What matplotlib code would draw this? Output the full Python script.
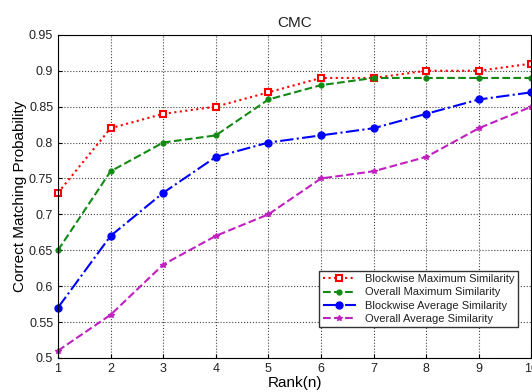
import matplotlib
matplotlib.use("Agg")
import matplotlib.pyplot as plt

rank = [1, 2, 3, 4, 5, 6, 7, 8, 9, 10]
blockwise_max = [0.73, 0.82, 0.84, 0.85, 0.87, 0.89, 0.89, 0.90, 0.90, 0.91]
overall_max = [0.65, 0.76, 0.80, 0.81, 0.86, 0.88, 0.89, 0.89, 0.89, 0.89]
blockwise_avg = [0.57, 0.67, 0.73, 0.78, 0.80, 0.81, 0.82, 0.84, 0.86, 0.87]
overall_avg = [0.51, 0.56, 0.63, 0.67, 0.70, 0.75, 0.76, 0.78, 0.82, 0.85]

plt.rcParams['font.family'] = ['Liberation Sans', 'DejaVu Sans']
plt.rcParams['text.color'] = '#222222'

fig = plt.figure(figsize=(5.32, 3.92), dpi=100)
ax = fig.add_axes([0.109, 0.087, 0.89, 0.824])

ax.plot(rank, blockwise_max, ':', color='red', marker='s', markerfacecolor='white',
        markeredgecolor='red', markeredgewidth=1.5, markersize=5, linewidth=1.5,
        label='Blockwise Maximum Similarity', clip_on=False)
ax.plot(rank, overall_max, '--', color='#138a13', marker='o', markersize=3.5, linewidth=1.5,
        label='Overall Maximum Similarity', clip_on=False)
ax.plot(rank, blockwise_avg, '-.', color='blue', marker='o', markersize=5, linewidth=1.5,
        label='Blockwise Average Similarity', clip_on=False)
ax.plot(rank, overall_avg, '--', color='#c020c0', marker='*', markersize=4, linewidth=1.5,
        label='Overall Average Similarity', clip_on=False)

ax.set_xlim(1, 10)
ax.set_ylim(0.5, 0.95)
ax.set_xticks(rank)
ax.set_yticks([0.5, 0.55, 0.6, 0.65, 0.7, 0.75, 0.8, 0.85, 0.9, 0.95])
ax.set_yticklabels(['0.5', '0.55', '0.6', '0.65', '0.7', '0.75', '0.8', '0.85', '0.9', '0.95'])
ax.tick_params(labelsize=9, direction='in', length=3, labelcolor='#222222')
ax.grid(True, linestyle=':', color='#444444', linewidth=0.8)
ax.set_title('CMC', fontsize=11)
ax.set_xlabel('Rank(n)', fontsize=11, labelpad=1)
ax.set_ylabel('Correct Matching Probability', fontsize=11, labelpad=1)
ax.legend(loc='lower left', bbox_to_anchor=(0.54, 0.077), fontsize=8, fancybox=False,
          edgecolor='#333333', framealpha=1, handlelength=3, borderpad=0.3, labelspacing=0.3)

fig.savefig('out.png', dpi=100)
